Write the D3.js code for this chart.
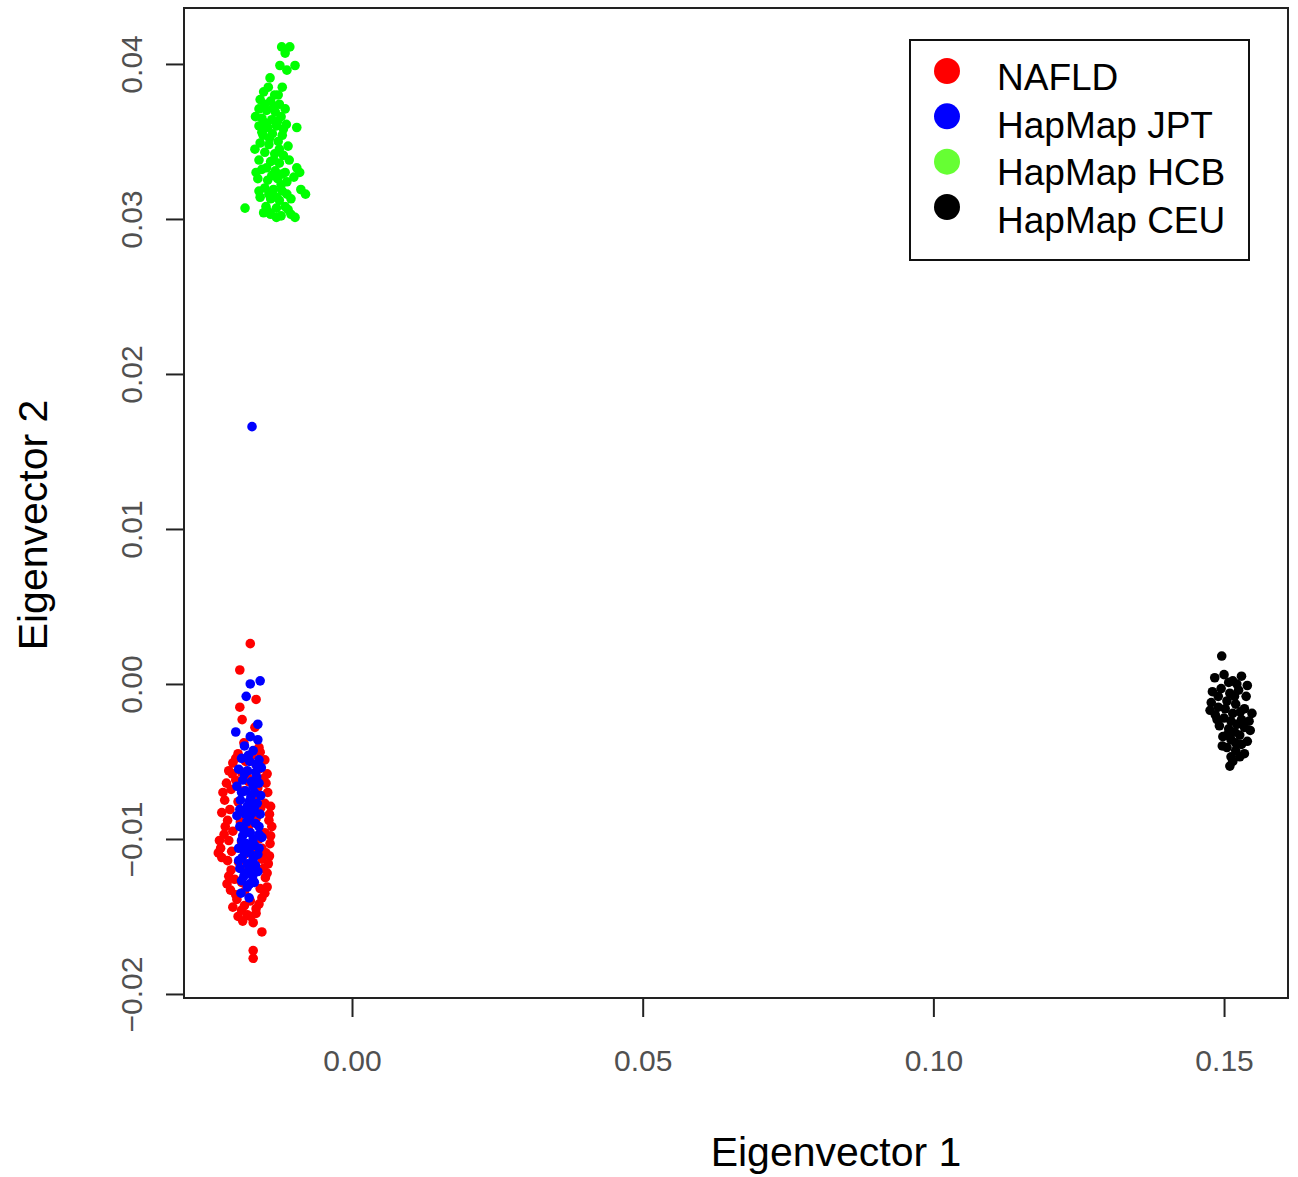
<!DOCTYPE html>
<html>
<head>
<meta charset="utf-8">
<script src="https://cdn.jsdelivr.net/npm/d3@7"></script>
<style>
  body { margin: 0; background: #fff; }
  svg { display: block; }
</style>
</head>
<body>
<div id="chart"></div>
<script>
const width = 1298;
const height = 1177;

// groups, drawn in this order (NAFLD first so JPT sits on top)
const groups = ['NAFLD', 'HapMap JPT', 'HapMap HCB', 'HapMap CEU'];
const pointColors = ['#ff0000', '#0000ff', '#00ff00', '#000000'];
const legendColors = ['#ff0000', '#0000ff', '#66ff33', '#000000'];

const xTicks = [0.00, 0.05, 0.10, 0.15];
const yTicks = [-0.02, -0.01, 0.00, 0.01, 0.02, 0.03, 0.04];

// [eigenvector 1, eigenvector 2]
const nafld = [
  [-0.0175,0.0026],[-0.0193,0.0009],[-0.0165,-0.0010],[-0.0193,-0.0015],[-0.0189,-0.0023],[-0.0167,-0.0028],[-0.0186,-0.0038],[-0.0160,-0.0041],
  [-0.0196,-0.0045],[-0.0172,-0.0046],[-0.0158,-0.0044],
  [-0.0205,-0.0051],[-0.0183,-0.0050],[-0.0165,-0.0052],[-0.0150,-0.0049],
  [-0.0212,-0.0056],[-0.0190,-0.0057],[-0.0160,-0.0055],[-0.0146,-0.0058],
  [-0.0200,-0.0062],[-0.0178,-0.0063],[-0.0152,-0.0061],[-0.0216,-0.0064],
  [-0.0208,-0.0068],[-0.0186,-0.0069],[-0.0162,-0.0067],[-0.0145,-0.0070],
  [-0.0219,-0.0075],[-0.0196,-0.0076],[-0.0170,-0.0074],[-0.0150,-0.0077],[-0.0140,-0.0079],
  [-0.0210,-0.0081],[-0.0185,-0.0082],[-0.0157,-0.0080],[-0.0224,-0.0083],
  [-0.0214,-0.0088],[-0.0192,-0.0089],[-0.0165,-0.0087],[-0.0143,-0.0088],[-0.0138,-0.0092],
  [-0.0205,-0.0095],[-0.0178,-0.0094],[-0.0150,-0.0096],[-0.0220,-0.0097],
  [-0.0212,-0.0101],[-0.0190,-0.0102],[-0.0160,-0.0100],[-0.0141,-0.0103],
  [-0.0226,-0.0106],[-0.0207,-0.0108],[-0.0173,-0.0107],[-0.0148,-0.0109],[-0.0230,-0.0109],
  [-0.0214,-0.0114],[-0.0195,-0.0115],[-0.0155,-0.0113],[-0.0144,-0.0116],
  [-0.0208,-0.0120],[-0.0182,-0.0121],[-0.0152,-0.0119],
  [-0.0202,-0.0126],[-0.0170,-0.0127],[-0.0149,-0.0125],[-0.0215,-0.0129],
  [-0.0209,-0.0133],[-0.0185,-0.0134],[-0.0158,-0.0132],[-0.0146,-0.0131],
  [-0.0198,-0.0139],[-0.0175,-0.0140],[-0.0155,-0.0138],[-0.0205,-0.0144],
  [-0.0190,-0.0146],[-0.0165,-0.0145],[-0.0196,-0.0150],[-0.0180,-0.0149],
  [-0.0170,-0.0154],[-0.0155,-0.0160],[-0.0170,-0.0172],[-0.0170,-0.0177],
  [-0.0180,-0.0060],[-0.0175,-0.0090],[-0.0185,-0.0110],[-0.0168,-0.0118],[-0.0190,-0.0128],
  [-0.0222,-0.0070],[-0.0142,-0.0084],[-0.0218,-0.0092],[-0.0140,-0.0098],[-0.0224,-0.0112],
  [-0.0146,-0.0122],[-0.0212,-0.0124],[-0.0150,-0.0135],[-0.0200,-0.0136],[-0.0185,-0.0143],
  [-0.0160,-0.0142],[-0.0175,-0.0150],[-0.0206,-0.0058],[-0.0148,-0.0064],[-0.0200,-0.0048],
  [-0.0155,-0.0106],[-0.0228,-0.0101],[-0.0142,-0.0111],[-0.0165,-0.0148],[-0.0188,-0.0153]
];

const jpt = [
  [-0.0172,0.0166],[-0.0175,0.0000],[-0.0158,0.0002],[-0.0182,-0.0008],[-0.0162,-0.0026],[-0.0200,-0.0031],[-0.0175,-0.0034],[-0.0162,-0.0036],
  [-0.0185,-0.0040],[-0.0170,-0.0043],[-0.0190,-0.0048],[-0.0176,-0.0050],[-0.0160,-0.0049],
  [-0.0195,-0.0055],[-0.0180,-0.0056],[-0.0166,-0.0057],[-0.0156,-0.0054],
  [-0.0188,-0.0062],[-0.0173,-0.0063],[-0.0160,-0.0064],[-0.0198,-0.0066],
  [-0.0183,-0.0069],[-0.0168,-0.0070],[-0.0157,-0.0072],
  [-0.0192,-0.0075],[-0.0177,-0.0076],[-0.0163,-0.0077],
  [-0.0186,-0.0082],[-0.0171,-0.0083],[-0.0158,-0.0084],[-0.0198,-0.0085],
  [-0.0181,-0.0089],[-0.0166,-0.0090],[-0.0193,-0.0092],
  [-0.0175,-0.0096],[-0.0160,-0.0097],[-0.0188,-0.0098],[-0.0155,-0.0099],
  [-0.0182,-0.0103],[-0.0168,-0.0104],[-0.0195,-0.0106],
  [-0.0176,-0.0109],[-0.0162,-0.0110],[-0.0189,-0.0112],
  [-0.0180,-0.0116],[-0.0166,-0.0117],[-0.0193,-0.0119],
  [-0.0184,-0.0122],[-0.0171,-0.0124],[-0.0190,-0.0127],[-0.0176,-0.0129],
  [-0.0191,-0.0135],[-0.0177,-0.0138],
  [-0.0178,-0.0046],[-0.0165,-0.0052],[-0.0185,-0.0058],[-0.0170,-0.0066],[-0.0190,-0.0070],
  [-0.0180,-0.0079],[-0.0168,-0.0080],[-0.0193,-0.0081],[-0.0176,-0.0086],[-0.0160,-0.0092],
  [-0.0186,-0.0094],[-0.0170,-0.0100],[-0.0190,-0.0101],[-0.0175,-0.0105],[-0.0160,-0.0106],
  [-0.0185,-0.0108],[-0.0170,-0.0113],[-0.0195,-0.0114],[-0.0176,-0.0119],[-0.0162,-0.0121],
  [-0.0186,-0.0124],[-0.0180,-0.0131],[-0.0168,-0.0128],[-0.0184,-0.0084],[-0.0174,-0.0073],[-0.0164,-0.0060]
];

const hcb = [
  [-0.0121,0.0411],[-0.0107,0.0411],[-0.0115,0.0407],
  [-0.0124,0.0399],[-0.0112,0.0396],[-0.0098,0.0399],
  [-0.0141,0.0391],[-0.0144,0.0385],[-0.0152,0.0382],[-0.0120,0.0385],[-0.0127,0.0380],
  [-0.0158,0.0377],[-0.0140,0.0376],[-0.0125,0.0374],[-0.0160,0.0371],[-0.0147,0.0370],[-0.0132,0.0369],[-0.0115,0.0371],
  [-0.0155,0.0365],[-0.0138,0.0364],[-0.0122,0.0366],[-0.0160,0.0360],[-0.0145,0.0359],[-0.0130,0.0360],[-0.0113,0.0361],
  [-0.0153,0.0354],[-0.0137,0.0355],[-0.0120,0.0354],[-0.0095,0.0359],
  [-0.0158,0.0349],[-0.0143,0.0348],[-0.0127,0.0350],[-0.0110,0.0347],
  [-0.0150,0.0343],[-0.0133,0.0342],[-0.0118,0.0341],[-0.0160,0.0338],[-0.0140,0.0337],[-0.0125,0.0336],[-0.0108,0.0338],
  [-0.0155,0.0332],[-0.0132,0.0331],[-0.0115,0.0330],[-0.0095,0.0333],[-0.0090,0.0330],
  [-0.0162,0.0326],[-0.0145,0.0325],[-0.0128,0.0326],[-0.0112,0.0324],
  [-0.0150,0.0320],[-0.0135,0.0319],[-0.0120,0.0318],[-0.0088,0.0319],[-0.0080,0.0316],
  [-0.0158,0.0314],[-0.0140,0.0313],[-0.0125,0.0312],[-0.0105,0.0313],
  [-0.0148,0.0308],[-0.0130,0.0307],[-0.0115,0.0308],[-0.0184,0.0307],
  [-0.0140,0.0303],[-0.0122,0.0302],[-0.0105,0.0303],[-0.0152,0.0304],[-0.0098,0.0301],[-0.0130,0.0301],
  [-0.0166,0.0366],[-0.0167,0.0345],[-0.0165,0.0330],[-0.0160,0.0318],
  [-0.0150,0.0374],[-0.0135,0.0372],[-0.0128,0.0363],[-0.0150,0.0362],[-0.0142,0.0352],
  [-0.0125,0.0345],[-0.0147,0.0333],[-0.0138,0.0328],[-0.0120,0.0329],[-0.0143,0.0316],
  [-0.0130,0.0314],[-0.0112,0.0316],[-0.0135,0.0338],[-0.0155,0.0356],[-0.0118,0.0358],
  [-0.0133,0.0380],[-0.0145,0.0305],[-0.0110,0.0306],[-0.0122,0.0322],[-0.0100,0.0327]
];

const ceu = [
  [0.1496,0.0018],
  [0.1484,0.0004],[0.1500,0.0006],[0.1515,0.0002],[0.1530,0.0005],[0.1540,-0.0001],
  [0.1480,-0.0005],[0.1495,-0.0003],[0.1510,-0.0006],[0.1525,-0.0004],[0.1538,-0.0008],
  [0.1478,-0.0012],[0.1490,-0.0015],[0.1505,-0.0011],[0.1520,-0.0013],[0.1535,-0.0016],[0.1548,-0.0019],
  [0.1485,-0.0020],[0.1500,-0.0022],[0.1515,-0.0019],[0.1530,-0.0023],[0.1476,-0.0017],
  [0.1492,-0.0027],[0.1508,-0.0029],[0.1522,-0.0026],[0.1545,-0.0030],[0.1535,-0.0028],
  [0.1498,-0.0034],[0.1512,-0.0036],[0.1527,-0.0033],[0.1540,-0.0037],
  [0.1505,-0.0041],[0.1520,-0.0043],[0.1535,-0.0045],[0.1512,-0.0047],
  [0.1510,-0.0053],[0.1527,-0.0047],
  [0.1490,-0.0008],[0.1502,-0.0016],[0.1518,-0.0008],[0.1528,-0.0018],[0.1512,-0.0024],
  [0.1497,-0.0040],[0.1505,-0.0033],[0.1520,-0.0038],[0.1530,-0.0039],[0.1518,-0.0031],
  [0.1508,0.0001],[0.1522,0.0000],[0.1543,-0.0024],[0.1488,-0.0023],[0.1515,-0.0050]
];

const series = [nafld, jpt, hcb, ceu];

const plot = {left: 184, right: 1288, top: 8, bottom: 998};

const x = d3.scaleLinear()
  .domain([-0.0289, 0.1610])
  .range([plot.left, plot.right]);

const y = d3.scaleLinear()
  .domain([-0.02026, 0.04361])
  .range([plot.bottom, plot.top]);

const svg = d3.select('#chart')
  .append('svg')
  .attr('width', width)
  .attr('height', height)
  .style('font-family', '"Liberation Sans", Arial, sans-serif');

// points
series.forEach((pts, i) => {
  svg.append('g')
    .attr('fill', pointColors[i])
    .selectAll('circle')
    .data(pts)
    .join('circle')
    .attr('cx', d => x(d[0]))
    .attr('cy', d => y(d[1]))
    .attr('r', 4.8);
});

// box
svg.append('rect')
  .attr('x', plot.left)
  .attr('y', plot.top)
  .attr('width', plot.right - plot.left)
  .attr('height', plot.bottom - plot.top)
  .attr('fill', 'none')
  .attr('stroke', '#222')
  .attr('stroke-width', 2);

// x axis
const xAxis = svg.append('g')
  .attr('transform', `translate(0,${plot.bottom})`)
  .call(d3.axisBottom(x).tickValues(xTicks).tickFormat(d3.format('.2f')).tickSize(19).tickPadding(33));
xAxis.select('.domain')
  .attr('d', `M${x(xTicks[0])},0H${x(xTicks[xTicks.length - 1])}`)
  .attr('stroke', '#222').attr('stroke-width', 2);
xAxis.selectAll('.tick line').attr('stroke', '#222').attr('stroke-width', 2);
xAxis.selectAll('.tick text')
  .attr('font-size', 30)
  .attr('fill', '#505050')
  .attr('font-family', '"Liberation Sans", Arial, sans-serif');

// y axis
const yAxis = svg.append('g')
  .attr('transform', `translate(${plot.left},0)`)
  .call(d3.axisLeft(y).tickValues(yTicks).tickFormat(d3.format('.2f')).tickSize(18));
yAxis.select('.domain')
  .attr('d', `M0,${y(yTicks[0])}V${y(yTicks[yTicks.length - 1])}`)
  .attr('stroke', '#222').attr('stroke-width', 2);
yAxis.selectAll('.tick line').attr('stroke', '#222').attr('stroke-width', 2);
yAxis.selectAll('.tick text')
  .attr('x', null).attr('dy', null)
  .attr('transform', 'translate(-42,0) rotate(-90)')
  .attr('text-anchor', 'middle')
  .attr('font-size', 30)
  .attr('fill', '#505050')
  .attr('font-family', '"Liberation Sans", Arial, sans-serif');

// axis titles
svg.append('text')
  .attr('x', 836)
  .attr('y', 1166)
  .attr('text-anchor', 'middle')
  .attr('font-size', 41)
  .attr('fill', '#000')
  .text('Eigenvector 1');

svg.append('text')
  .attr('transform', 'translate(47,525) rotate(-90)')
  .attr('text-anchor', 'middle')
  .attr('font-size', 41)
  .attr('fill', '#000')
  .text('Eigenvector 2');

// legend
const legend = svg.append('g').attr('transform', 'translate(910,40)');
legend.append('rect')
  .attr('width', 339)
  .attr('height', 220)
  .attr('fill', '#fff')
  .attr('stroke', '#111')
  .attr('stroke-width', 2);

const idx = d3.range(groups.length);
const markRow = d3.scalePoint().domain(idx).range([31, 167]);
const textRow = d3.scalePoint().domain(idx).range([50, 193]);

legend.selectAll('circle')
  .data(idx)
  .join('circle')
  .attr('cx', 37)
  .attr('cy', i => markRow(i))
  .attr('r', 13)
  .attr('fill', i => legendColors[i]);

legend.selectAll('text')
  .data(idx)
  .join('text')
  .attr('x', 87)
  .attr('y', i => textRow(i))
  .attr('font-size', 37)
  .attr('fill', '#000')
  .text(i => groups[i]);
</script>
</body>
</html>
